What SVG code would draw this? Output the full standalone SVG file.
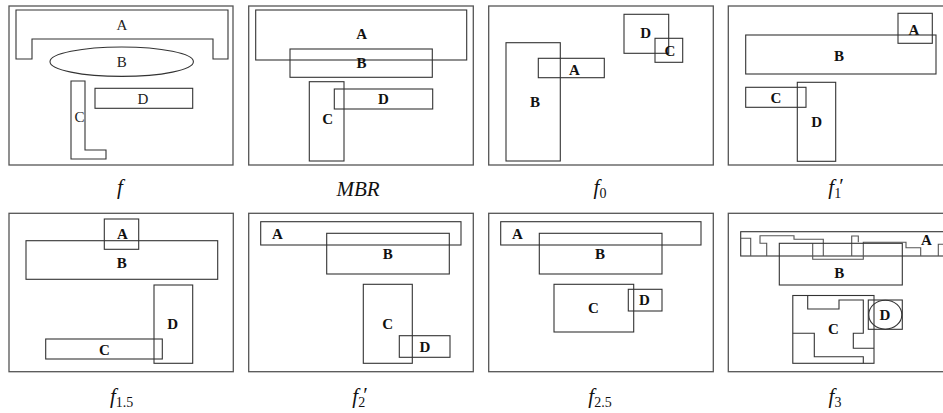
<svg xmlns="http://www.w3.org/2000/svg" width="943" height="413" viewBox="0 0 943 413">
<style>
.frame{fill:none;stroke:#555;stroke-width:1.3}
.sh{fill:none;stroke:#333;stroke-width:1.1}
.in{fill:none;stroke:#555;stroke-width:1.1}
.lb{font-family:"Liberation Serif","Times New Roman",serif;font-size:15px;font-weight:bold;text-anchor:middle;fill:#111}
.ln{font-family:"Liberation Serif","Times New Roman",serif;font-size:15px;text-anchor:middle;fill:#222}
.cap{font-family:"Liberation Serif","Times New Roman",serif;font-size:21px;text-anchor:middle;fill:#111}
.it{font-style:italic}
.sub{font-size:14px}
</style>
<rect width="943" height="413" fill="#fff"/>

<!-- Panel f -->
<g id="panel-f">
  <rect class="frame" x="9" y="6" width="224" height="159"/>
  <g id="f-A"><path class="sh" d="M16,10 H228 V59 H213 V39 H32 V59 H16 Z"/><text class="ln" x="122" y="30">A</text></g>
  <g id="f-B"><ellipse class="sh" cx="121.7" cy="61.7" rx="71.7" ry="14.7"/><text class="ln" x="121.7" y="67">B</text></g>
  <g id="f-C"><path class="sh" d="M71,81 H85 V150 H106 V159 H71 Z"/><text class="ln" x="79.5" y="122">C</text></g>
  <g id="f-D"><rect class="sh" x="95" y="88.3" width="97.7" height="20"/><text class="ln" x="143" y="103.5">D</text></g>
  <text class="cap it" x="120" y="194">f</text>
</g>

<!-- Panel MBR -->
<g id="panel-MBR">
  <rect class="frame" x="248.7" y="6" width="224.6" height="159"/>
  <g id="mbr-A"><rect class="sh" x="255.7" y="10" width="211" height="50"/><text class="lb" x="361.7" y="39">A</text></g>
  <g id="mbr-B"><rect class="sh" x="290" y="49" width="142.3" height="28.3"/><text class="lb" x="361.5" y="68">B</text></g>
  <g id="mbr-C"><rect class="sh" x="309.3" y="81.7" width="34.7" height="79.3"/><text class="lb" x="327.7" y="124">C</text></g>
  <g id="mbr-D"><rect class="sh" x="334.3" y="89" width="98.4" height="20"/><text class="lb" x="383.3" y="104">D</text></g>
  <text class="cap it" x="358" y="196">MBR</text>
</g>

<!-- Panel f0 -->
<g id="panel-f0">
  <rect class="frame" x="488.7" y="6" width="224.6" height="159"/>
  <g id="f0-D"><rect class="sh" x="624" y="14.3" width="44.7" height="39"/><text class="lb" x="645.7" y="38">D</text></g>
  <g id="f0-C"><rect class="sh" x="655" y="38.3" width="27.7" height="24"/><text class="lb" x="670" y="56">C</text></g>
  <g id="f0-A"><rect class="sh" x="538.3" y="58.3" width="66" height="19.4"/><text class="lb" x="574.3" y="74.5">A</text></g>
  <g id="f0-B"><rect class="sh" x="506" y="42.7" width="54.3" height="118.3"/><text class="lb" x="535" y="107">B</text></g>
  <text class="cap" x="600" y="194"><tspan class="it">f</tspan><tspan class="sub" dy="4">0</tspan></text>
</g>

<!-- Panel f1' -->
<g id="panel-f1p">
  <rect class="frame" x="728.3" y="6" width="222" height="159"/>
  <g id="f1p-A"><rect class="sh" x="898" y="13.3" width="34.3" height="30"/><text class="lb" x="914" y="34.5">A</text></g>
  <g id="f1p-B"><rect class="sh" x="745.7" y="35" width="190.3" height="39"/><text class="lb" x="839" y="61">B</text></g>
  <g id="f1p-C"><rect class="sh" x="745.7" y="87.3" width="60.3" height="20"/><text class="lb" x="776" y="103">C</text></g>
  <g id="f1p-D"><rect class="sh" x="797.3" y="82.3" width="38.4" height="79"/><text class="lb" x="816.7" y="127">D</text></g>
  <text class="cap" x="836" y="194"><tspan class="it">f</tspan><tspan class="sub" dy="4">1</tspan><tspan dx="-2" dy="-5">′</tspan></text>
</g>

<!-- Panel f1.5 -->
<g id="panel-f15">
  <rect class="frame" x="9" y="213.3" width="224.3" height="158.4"/>
  <g id="f15-A"><rect class="sh" x="104.3" y="219" width="34.4" height="30.3"/><text class="lb" x="122.3" y="239">A</text></g>
  <g id="f15-B"><rect class="sh" x="26" y="240.7" width="191.7" height="38.6"/><text class="lb" x="121.7" y="267.5">B</text></g>
  <g id="f15-D"><rect class="sh" x="154" y="285" width="38.7" height="78.3"/><text class="lb" x="172.7" y="329">D</text></g>
  <g id="f15-C"><rect class="sh" x="45.7" y="339" width="116.6" height="20"/><text class="lb" x="104.3" y="354.5">C</text></g>
  <text class="cap" x="121.7" y="403"><tspan class="it">f</tspan><tspan class="sub" dy="4">1.5</tspan></text>
</g>

<!-- Panel f2' -->
<g id="panel-f2p">
  <rect class="frame" x="248.7" y="213.3" width="224.6" height="158.4"/>
  <g id="f2p-A"><rect class="sh" x="260.7" y="221.7" width="200.3" height="23.3"/><text class="lb" x="277.3" y="238.5">A</text></g>
  <g id="f2p-B"><rect class="sh" x="326.7" y="233.3" width="122.6" height="40.7"/><text class="lb" x="387.7" y="259">B</text></g>
  <g id="f2p-C"><rect class="sh" x="363.3" y="284.3" width="49" height="79"/><text class="lb" x="387.7" y="329">C</text></g>
  <g id="f2p-D"><rect class="sh" x="399.3" y="335.7" width="50.7" height="21.6"/><text class="lb" x="425" y="352">D</text></g>
  <text class="cap" x="360" y="403"><tspan class="it">f</tspan><tspan class="sub" dy="4">2</tspan><tspan dx="-2" dy="-5">′</tspan></text>
</g>

<!-- Panel f2.5 -->
<g id="panel-f25">
  <rect class="frame" x="488.7" y="213.3" width="224.6" height="158.4"/>
  <g id="f25-A"><rect class="sh" x="500.7" y="221.7" width="200.3" height="23.3"/><text class="lb" x="517.3" y="238.5">A</text></g>
  <g id="f25-B"><rect class="sh" x="539.3" y="233.3" width="122.7" height="40.7"/><text class="lb" x="600" y="259">B</text></g>
  <g id="f25-C"><rect class="sh" x="554" y="284.3" width="79.7" height="47.7"/><text class="lb" x="593.3" y="313">C</text></g>
  <g id="f25-D"><rect class="sh" x="628.3" y="289.3" width="33.7" height="21.7"/><text class="lb" x="644.3" y="304.5">D</text></g>
  <text class="cap" x="600" y="403"><tspan class="it">f</tspan><tspan class="sub" dy="4">2.5</tspan></text>
</g>

<!-- Panel f3 -->
<g id="panel-f3">
  <rect class="frame" x="728.3" y="213.3" width="222" height="158.4"/>
  <g id="f3-A">
    <rect class="sh" x="740.7" y="231.7" width="210" height="24.3"/>
    <path class="in" d="M740.7,238.3 H750.7 V256 M766.7,256 V243.3 H760 V235.7 H794 V239.3 H823.3 V256 M812.7,243.3 V259.3 H863.3 V242.3 H906 V247.7 H920.7 V256 M851.7,256 V236 H858.3 V242.3 M938.3,256 V244.3 H945"/>
    <text class="lb" x="926.3" y="245">A</text>
  </g>
  <g id="f3-B"><rect class="sh" x="779.3" y="243.3" width="123" height="41.7"/><text class="lb" x="839.3" y="278">B</text></g>
  <g id="f3-C">
    <rect class="sh" x="792.8" y="295.5" width="81.2" height="67.8"/>
    <path class="sh" d="M807.7,295.5 V309 H839 V300 H863.3 V333.3 H853.3 V348.3 H874 M792.8,333.3 H814.3 V356.7 H863.3 V363.3"/>
    <text class="lb" x="833.3" y="333.5">C</text>
  </g>
  <g id="f3-D">
    <rect class="sh" x="868.3" y="300" width="34" height="29.3"/>
    <ellipse class="sh" cx="885.3" cy="314.7" rx="16.5" ry="14.5"/>
    <text class="lb" x="885" y="320">D</text>
  </g>
  <text class="cap" x="835" y="403"><tspan class="it">f</tspan><tspan class="sub" dy="4">3</tspan></text>
</g>
</svg>
